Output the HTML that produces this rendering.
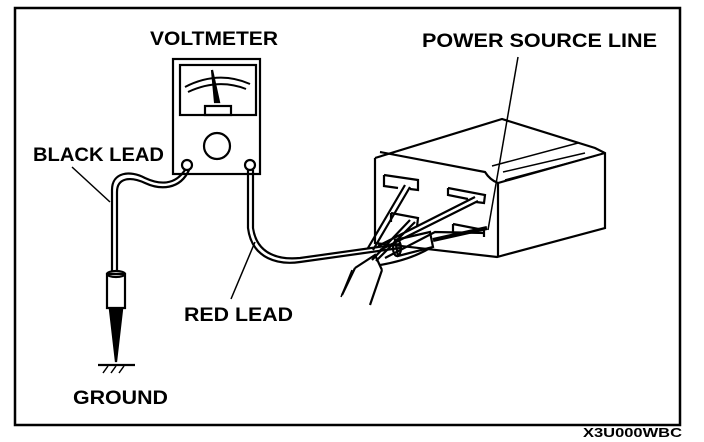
<!DOCTYPE html>
<html><head><style>
body{margin:0;background:#fff;width:704px;height:442px;overflow:hidden;font-family:"Liberation Sans",sans-serif}
svg{position:absolute;left:0;top:0}
text{font-family:"Liberation Sans",sans-serif;font-weight:bold;fill:#000}
</style></head><body>
<svg width="704" height="442" viewBox="0 0 704 442">
<g fill="none" stroke="#000" stroke-width="2.2">
<rect x="15" y="8" width="665" height="417" stroke-width="2.5"/>
<!-- voltmeter -->
<rect x="173" y="59" width="87" height="115"/>
<rect x="180" y="65" width="76" height="50"/>
<path d="M185 87 Q218 70 250 84" stroke-width="2"/>
<path d="M188 92 Q218 78 246 89" stroke-width="2"/>
<path d="M212 70 L219 102 L215 102 Z" fill="#000"/>
<rect x="205" y="106" width="26" height="9"/>
<circle cx="217" cy="146" r="13"/>
<circle cx="187" cy="165" r="5"/>
<circle cx="250" cy="165" r="5"/>
<!-- black lead -->
<path d="M185 170 C175 185 160 185 145 178 C130 170 112 172 112 190 L112 272"/>
<path d="M189 170 C180 190 160 190 145 183 C130 176 117 178 117 192 L117 272"/>
<line x1="72" y1="167" x2="110" y2="202" stroke-width="1.5"/>
<path d="M107 274 L107 308 L125 308 L125 274 Z"/>
<ellipse cx="116" cy="274" rx="9" ry="3"/>
<path d="M110 310 L116 362 L122 310 Z" fill="#000"/>
<line x1="98" y1="365" x2="135" y2="365"/>
<path d="M103 373 L108 366 M111 373 L116 366 M119 373 L124 366" stroke-width="1.5"/>
<!-- red lead -->
<path d="M248 170 L248 228 C252 260 280 265 300 262 L400 248"/>
<path d="M253 170 L253 228 C257 255 280 260 300 258 L400 244"/>
<line x1="231" y1="299" x2="255" y2="242" stroke-width="1.5"/>
<line x1="341" y1="297" x2="352" y2="270" stroke-width="1.5"/>
<!-- connector box -->
<path d="M375 158 L375 243 L497 257 L605 228 L605 153 L595 148 L502 119 L375 158"/>
<path d="M380 152 L485 172 Q490 180 498 183 L605 153"/>
<line x1="498" y1="183" x2="498" y2="257"/>
<path d="M492 166 L578 143 M503 172 L585 153 M505 180 L595 156" stroke-width="1.5"/>
<path d="M384 175 L418 180 L418 190 L410 189 M384 175 L384 186 L398 188"/>
<path d="M448 188 L485 195 L484 203 L476 202 M448 188 L448 195 L468 199"/>
<path d="M391 213 L418 218 L417 227 M391 213 L391 222"/>
<path d="M453 224 L484 230 L484 237 M453 224 L453 232"/>
<!-- wires into connector -->
<path d="M368 248 L405 185 M373 250 L410 187 M372 260 L410 220 M376 261 L415 222 M378 246 L475 197 M380 250 L478 201 M385 258 L435 232 L485 233"/>
<path d="M395 240 L430 232 L433 247 L398 256 Z"/>
<ellipse cx="397" cy="248" rx="4" ry="8"/>
<path d="M433 240 L487 228" stroke-width="4"/>
<path d="M355 268 L375 255 L382 270 M355 268 L342 295 M382 270 L370 305"/>
<path d="M380 265 Q410 260 430 248"/>
<line x1="518" y1="57" x2="488" y2="230" stroke-width="1.5"/>
</g>
<text x="150" y="45" font-size="19" textLength="128" lengthAdjust="spacingAndGlyphs">VOLTMETER</text>
<text x="33" y="161" font-size="19" textLength="131" lengthAdjust="spacingAndGlyphs">BLACK LEAD</text>
<text x="73" y="404" font-size="19" textLength="95" lengthAdjust="spacingAndGlyphs">GROUND</text>
<text x="184" y="321" font-size="19" textLength="109" lengthAdjust="spacingAndGlyphs">RED LEAD</text>
<text x="422" y="47" font-size="19" textLength="235" lengthAdjust="spacingAndGlyphs">POWER SOURCE LINE</text>
<text x="583" y="437" font-size="13" textLength="99" lengthAdjust="spacingAndGlyphs">X3U000WBC</text>
</svg>
</body></html>
